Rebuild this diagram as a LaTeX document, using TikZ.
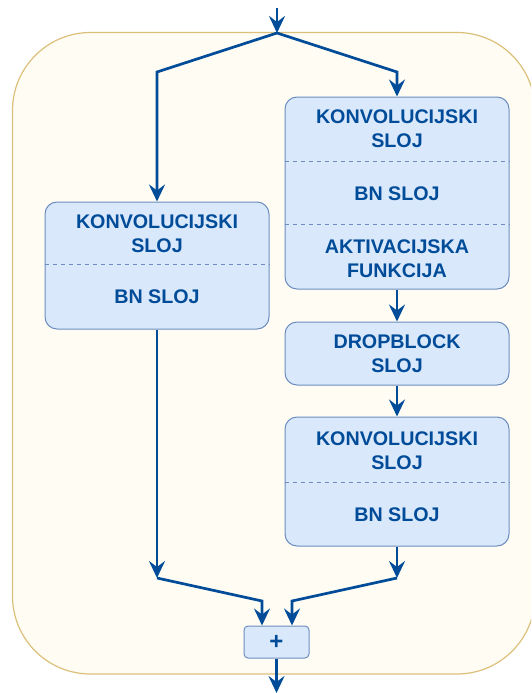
\documentclass[tikz,border=0pt]{standalone}
\usepackage{fontspec}
\setmainfont{Liberation Sans}
\usetikzlibrary{arrows.meta}
\definecolor{lineblue}{HTML}{004C99}
\definecolor{boxfill}{HTML}{DAE8FC}
\definecolor{boxdraw}{HTML}{6C8EBF}
\definecolor{bgfill}{HTML}{FFFCF4}
\definecolor{bgdraw}{HTML}{DCC07A}
\begin{document}
\begin{tikzpicture}[x=1pt,y=-1pt,
 box/.style={draw=boxdraw, fill=boxfill, rounded corners=12pt, line width=1pt, inner sep=0pt},
 lbl/.style={text=lineblue, font=\fontsize{19.7}{24}\selectfont\bfseries, align=center, inner sep=0pt},
 sep/.style={draw=boxdraw, dash pattern=on 4pt off 4pt, line width=1pt},
 arr/.style={draw=lineblue, line width=2.7pt, -{Stealth[length=17pt,width=16pt,inset=6pt]}},
 ln/.style={draw=lineblue, line width=2.7pt}]
\useasboundingbox (0,0) rectangle (531,693);
\begin{scope}
\clip (0,0) rectangle (531,693);
\draw[fill=bgfill, draw=bgdraw, line width=1.2pt, rounded corners=78pt] (12.5,32.5) rectangle (535,674);
\end{scope}
% boxes
\node[box, minimum width=224pt, minimum height=127pt] (lbox) at (157,265.5) {};
\node[box, minimum width=224pt, minimum height=192pt] (rbox) at (397,193) {};
\node[box, minimum width=224pt, minimum height=63pt] (drop) at (397,353.5) {};
\node[box, minimum width=224pt, minimum height=129pt] (rbox2) at (397,481.5) {};
\node[box, minimum width=65pt, minimum height=32pt, rounded corners=4pt] (plus) at (276.5,642) {};
% separators
\draw[sep] (lbox.west |- 0,264) -- (lbox.east |- 0,264);
\draw[sep] (rbox.west |- 0,161) -- (rbox.east |- 0,161);
\draw[sep] (rbox.west |- 0,224) -- (rbox.east |- 0,224);
\draw[sep] (rbox2.west |- 0,482) -- (rbox2.east |- 0,482);
% labels
\node[lbl] (l1) at (157,233.5) {KONVOLUCIJSKI\\SLOJ};
\node[lbl] (l2) at (157,297) {BN SLOJ};
\node[lbl] (r1) at (397,129) {KONVOLUCIJSKI\\SLOJ};
\node[lbl] (r2) at (397,194) {BN SLOJ};
\node[lbl] (r3) at (397,258.5) {AKTIVACIJSKA\\FUNKCIJA};
\node[lbl] (d1) at (397,354) {DROPBLOCK\\SLOJ};
\node[lbl] (k1) at (397,450.5) {KONVOLUCIJSKI\\SLOJ};
\node[lbl] (k2) at (397,515) {BN SLOJ};
\node[lbl, font=\fontsize{24}{24}\selectfont\bfseries] (p) at (276.5,642) {+};
% coordinates
\coordinate (top) at (277,8);
\coordinate (split) at (277,33);
\coordinate (lb) at (157,72);
\coordinate (rb) at (397,72);
\coordinate (lm) at (157,578);
\coordinate (lm2) at (262,601);
\coordinate (rm) at (397,578);
\coordinate (rm2) at (292,601);
\coordinate (out) at (276.5,693);
% connectors
\draw[arr] (top) -- (split);
\draw[arr] (split) -- (lb) -- (lbox.north);
\draw[arr] (split) -- (rb) -- (rbox.north);
\draw[arr] (rbox.south) -- (drop.north);
\draw[arr] (drop.south) -- (rbox2.north);
\draw[arr] (lbox.south) -- (lm);
\draw[arr] (rbox2.south) -- (rm);
\draw[arr] (lm) -- (lm2) -- (lm2 |- plus.north);
\draw[arr] (rm) -- (rm2) -- (rm2 |- plus.north);
\draw[arr] (plus.south) -- (out);
\end{tikzpicture}
\end{document}
